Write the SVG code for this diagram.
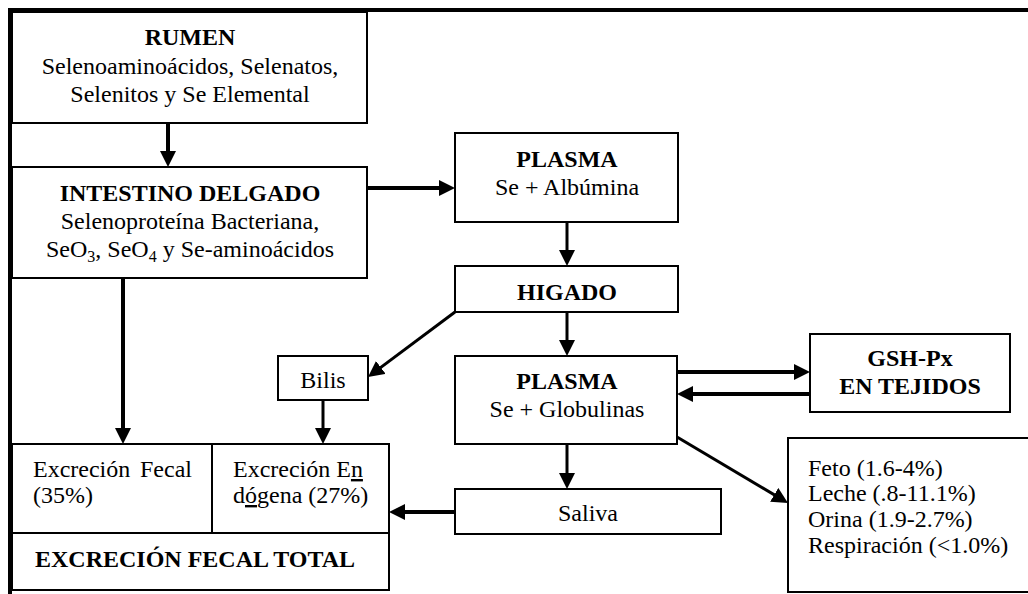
<svg xmlns="http://www.w3.org/2000/svg" width="1028" height="594" viewBox="0 0 1028 594" font-family="'Liberation Serif', 'Times New Roman', 'DejaVu Serif', serif">
<style>
text{font-family:'Liberation Serif','Times New Roman','DejaVu Serif',serif;font-size:24px;fill:#000}
.b{font-weight:bold}
.c{text-anchor:middle}
.box{fill:#fff;stroke:#000;stroke-width:2}
.frame{stroke:#000;stroke-width:4;fill:none}
.a4{stroke:#000;stroke-width:4;fill:none}
.a3{stroke:#000;stroke-width:3;fill:none}
.sub{font-size:16px}
</style>
<defs>
<marker id="ah" markerUnits="userSpaceOnUse" viewBox="0 0 16 16" refX="10" refY="8" markerWidth="16" markerHeight="16" orient="auto">
<path d="M0,0 L16,8 L0,16 Z" fill="#000"/>
</marker>
</defs>
<rect width="1028" height="594" fill="#fff"/>
<g id="frame">
<line class="frame" x1="8" y1="10" x2="1028" y2="10"/>
<line class="frame" x1="10" y1="8" x2="10" y2="594"/>
</g>
<g id="rumen">
<rect class="box" x="12" y="12" width="355" height="111"/>
<text class="b c" x="190" y="45">RUMEN</text>
<text class="c" x="190" y="74">Selenoaminoácidos, Selenatos,</text>
<text class="c" x="190" y="102">Selenitos y Se Elemental</text>
</g>
<g id="intestino">
<rect class="box" x="12" y="167" width="355" height="111"/>
<text class="b c" x="190" y="201">INTESTINO DELGADO</text>
<text class="c" x="190" y="229">Selenoproteína Bacteriana,</text>
<text class="c" x="190" y="257">SeO<tspan class="sub" dy="5">3</tspan><tspan dy="-5">, SeO</tspan><tspan class="sub" dy="5">4</tspan><tspan dy="-5"> y Se-aminoácidos</tspan></text>
</g>
<g id="plasma1">
<rect class="box" x="455" y="133" width="223" height="89"/>
<text class="b c" x="567" y="167">PLASMA</text>
<text class="c" x="567" y="195">Se + Albúmina</text>
</g>
<g id="higado">
<rect class="box" x="455" y="266" width="223" height="46"/>
<text class="b c" x="567" y="300">HIGADO</text>
</g>
<g id="plasma2">
<rect class="box" x="455" y="356" width="222" height="88"/>
<text class="b c" x="567" y="389">PLASMA</text>
<text class="c" x="567" y="417">Se + Globulinas</text>
</g>
<g id="gshpx">
<rect class="box" x="810" y="334" width="200" height="78"/>
<text class="b c" x="910" y="366">GSH-Px</text>
<text class="b c" x="910" y="394">EN TEJIDOS</text>
</g>
<g id="bilis">
<rect class="box" x="278" y="356" width="90" height="44"/>
<text class="c" x="323" y="388">Bilis</text>
</g>
<g id="saliva">
<rect class="box" x="455" y="489" width="266" height="45"/>
<text class="c" x="588" y="521">Saliva</text>
</g>
<g id="otros">
<rect class="box" x="788" y="438" width="260" height="154"/>
<text x="808" y="476">Feto (1.6-4%)</text>
<text x="808" y="501">Leche (.8-11.1%)</text>
<text x="808" y="527">Orina (1.9-2.7%)</text>
<text x="808" y="553">Respiración (&lt;1.0%)</text>
</g>
<g id="excrecion">
<rect class="box" x="12" y="444" width="377" height="146"/>
<line x1="12" y1="533" x2="389" y2="533" stroke="#000" stroke-width="2"/>
<line x1="212" y1="444" x2="212" y2="533" stroke="#000" stroke-width="2"/>
<text x="33" y="477">Excreción<tspan x="140">Fecal</tspan></text>
<text x="33" y="503">(35%)</text>
<text x="233" y="477">Excreción E<tspan style="text-decoration:underline">n</tspan></text>
<text x="233" y="503">d<tspan style="text-decoration:underline">ó</tspan>gena (27%)</text>
<text class="b" x="35" y="567">EXCRECIÓN FECAL TOTAL</text>
</g>
<g id="connectors">
<path class="a4" d="M168,123 L168,161" marker-end="url(#ah)"/>
<path class="a4" d="M367,188 L449,188" marker-end="url(#ah)"/>
<path class="a3" d="M567,222 L567,260" marker-end="url(#ah)"/>
<path class="a3" d="M567,312 L567,350" marker-end="url(#ah)"/>
<path class="a4" d="M677,372 L804,372" marker-end="url(#ah)"/>
<path class="a4" d="M810,394 L683,394" marker-end="url(#ah)"/>
<path class="a3" d="M567,444 L567,483" marker-end="url(#ah)"/>
<path class="a4" d="M455,512 L395,512" marker-end="url(#ah)"/>
<path class="a3" d="M455,312 L372.8,373.4" marker-end="url(#ah)"/>
<path class="a3" d="M323,400 L323,438" marker-end="url(#ah)"/>
<path class="a4" d="M123,278 L123,438" marker-end="url(#ah)"/>
<path class="a3" d="M677,437 L782.8,499.9" marker-end="url(#ah)"/>
</g>
</svg>
